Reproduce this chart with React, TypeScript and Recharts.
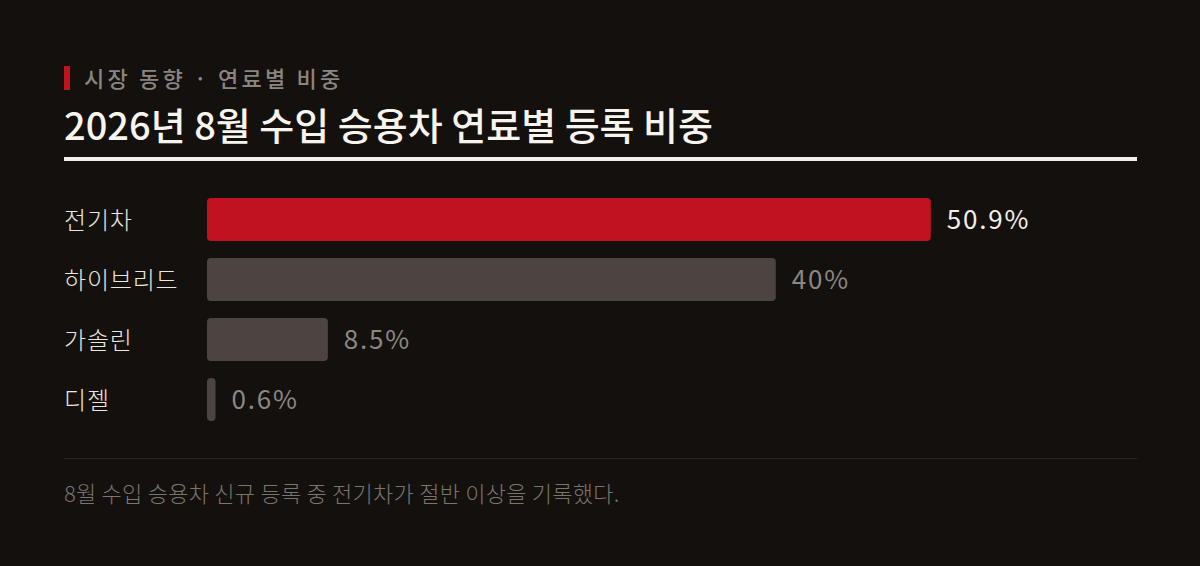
import React from 'react';
import { BarChart, Bar, XAxis, YAxis, Cell, LabelList } from 'recharts';

const fuelTypes = ['전기차', '하이브리드', '가솔린', '디젤'];
const shares = [50.9, 40, 8.5, 0.6];
const shareLabels = ['50.9%', '40%', '8.5%', '0.6%'];

const BG = '#13100e';
const RED = '#c1121f';
const GRAY_BAR = '#4b4441';
const FONT = '"Noto Sans CJK KR", "Noto Sans", sans-serif';

const data = fuelTypes.map((name, i) => ({ name, value: shares[i], label: shareLabels[i] }));

const CategoryTick = (props: any) => {
    const { y, payload } = props;
    return (
        <text x={0} y={y} dy={10} fill="#ece7df" fontSize={24} fontWeight={300} letterSpacing={0.8} fontFamily={FONT} textAnchor="start">
            {payload.value}
        </text>
    );
};

const ValueLabel = (props: any) => {
    const { x, y, width, height, index } = props;
    const first = index === 0;
    return (
        <text
            x={x + width + 16}
            y={y + height / 2}
            dy={9}
            fill={first ? '#f3efe8' : '#8d8782'}
            fontSize={26}
            fontFamily={FONT}
            letterSpacing={1.8}
            textAnchor="start"
        >
            {shareLabels[index]}
        </text>
    );
};

export default function App() {
    return (
        <div style={{ position: 'absolute', left: 0, top: 0, width: 1200, height: 566, background: BG, fontFamily: FONT }}>
            {/* kicker */}
            <div style={{ position: 'absolute', left: 64, top: 66, width: 6, height: 24, background: RED }} />
            <div style={{ position: 'absolute', left: 84, top: 66, fontSize: 22, lineHeight: 1, fontWeight: 500, color: '#8b8580', letterSpacing: 3.2, whiteSpace: 'nowrap' }}>
                시장 동향 · 연료별 비중
            </div>
            {/* title */}
            <div style={{ position: 'absolute', left: 64, top: 105, fontSize: 38, lineHeight: 1, fontWeight: 500, color: '#f7f4ee', whiteSpace: 'nowrap' }}>
                2026년 8월 수입 승용차 연료별 등록 비중
            </div>
            <div style={{ position: 'absolute', left: 64, top: 157, width: 1073, height: 4, background: '#f3efe8' }} />

            <div style={{ position: 'absolute', left: 64, top: 189 }}>
                <BarChart width={1073} height={240} data={data} layout="vertical" margin={{ top: 0, right: 0, bottom: 0, left: 0 }}>
                    <XAxis type="number" hide domain={[0, 65.4]} />
                    <YAxis dataKey="name" type="category" width={143} axisLine={false} tickLine={false} tick={<CategoryTick />} />
                    <Bar dataKey="value" barSize={43} radius={4} isAnimationActive={false}>
                        {data.map((d, i) => (
                            <Cell key={d.name} fill={i === 0 ? RED : GRAY_BAR} />
                        ))}
                        <LabelList dataKey="label" content={<ValueLabel />} />
                    </Bar>
                </BarChart>
            </div>

            <div style={{ position: 'absolute', left: 64, top: 458, width: 1073, height: 1, background: '#2a2624' }} />
            <div style={{ position: 'absolute', left: 64, top: 481, fontSize: 22, lineHeight: 1, fontWeight: 300, letterSpacing: 0.25, color: '#7b7570', whiteSpace: 'nowrap' }}>
                8월 수입 승용차 신규 등록 중 전기차가 절반 이상을 기록했다.
            </div>
        </div>
    );
}
